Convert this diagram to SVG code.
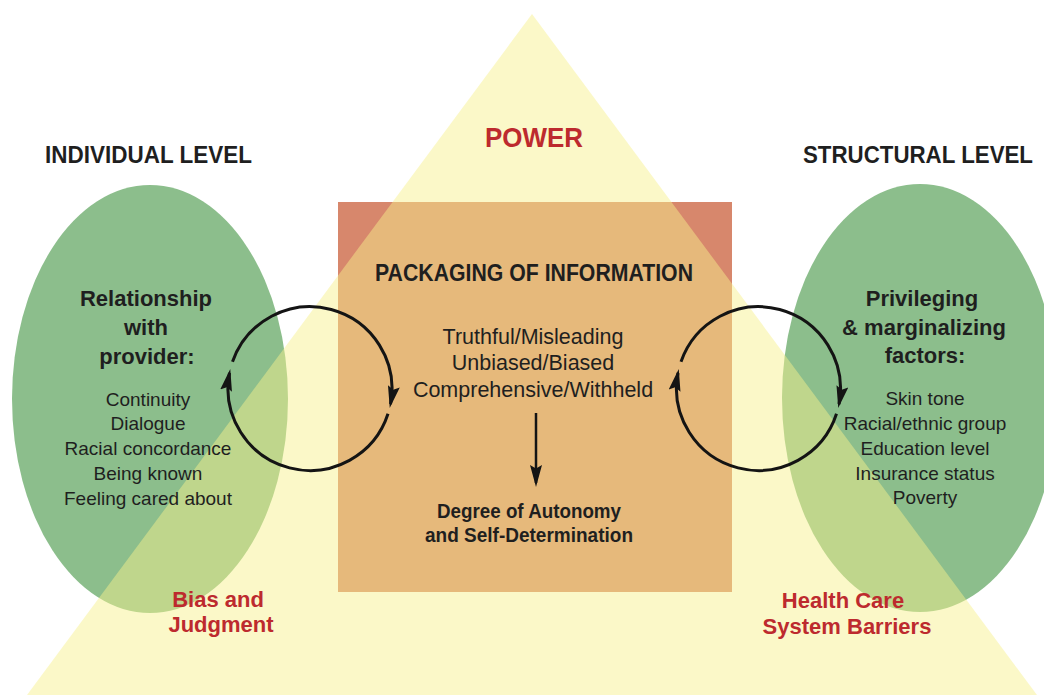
<svg xmlns="http://www.w3.org/2000/svg" width="1044" height="695" viewBox="0 0 1044 695">
  <style>
    text { font-family: "Liberation Sans", Arial, sans-serif; text-anchor: middle; fill: #1f1f1f; }
    .level { font-size: 23px; font-weight: bold; }
    .head { font-size: 22px; font-weight: bold; }
    .item { font-size: 19px; }
    .info { font-size: 21.5px; }
    .outcome { font-size: 20px; font-weight: bold; }
    .red { fill: #bd2a2e; font-weight: bold; font-size: 22px; }
    .ellipse { fill: #8cbe8c; }
    .loop { fill: none; stroke: #141414; stroke-width: 3; stroke-linecap: butt; }
  </style>
  <defs>
    <marker id="head" markerUnits="userSpaceOnUse" viewBox="0 0 22 13" markerWidth="22" markerHeight="13" refX="18" refY="6.5" orient="auto">
      <path d="M0,0.5 L22,6.5 L0,12.5 L3.5,6.5 Z" fill="#141414"/>
    </marker>
  </defs>

  <rect width="1044" height="695" fill="#ffffff"/>

  <!-- base shapes -->
  <g id="individual-level">
    <ellipse class="ellipse" cx="150" cy="399" rx="138" ry="214"/>
  </g>
  <g id="structural-level">
    <ellipse class="ellipse" cx="920" cy="398" rx="138" ry="214"/>
  </g>
  <g id="packaging-of-information">
    <rect x="338" y="202" width="394" height="390" fill="#d7876c"/>
  </g>

  <!-- translucent power triangle laid over the shapes -->
  <g id="power">
    <polygon points="532,14 1037,695 27,695" fill="#f6f18c" fill-opacity="0.48"/>
    <text class="red" x="534" y="147" style="font-size:28px" textLength="98" lengthAdjust="spacingAndGlyphs">POWER</text>
  </g>

  <!-- feedback loops and outcome arrow -->
  <g id="connectors">
    <path class="loop" d="M232.5,361.8 A82,82 0 0 1 390.5,404.1" marker-end="url(#head)"/>
    <path class="loop" d="M388,413.8 A82,82 0 0 1 229.5,372.9" marker-end="url(#head)"/>
    <path class="loop" d="M681,361.8 A82,82 0 0 1 839,404.1" marker-end="url(#head)"/>
    <path class="loop" d="M836.5,413.8 A82,82 0 0 1 678,372.9" marker-end="url(#head)"/>
    <path class="loop" style="stroke-width:2.5" d="M536,413 L536,483" marker-end="url(#head)"/>
  </g>

  <!-- labels -->
  <g id="individual-level-text">
    <text class="level" x="148.5" y="163" textLength="207" lengthAdjust="spacingAndGlyphs">INDIVIDUAL LEVEL</text>
    <text class="head" x="146" y="306">Relationship</text>
    <text class="head" x="146" y="335">with</text>
    <text class="head" x="147" y="364">provider:</text>
    <text class="item" x="148" y="406">Continuity</text>
    <text class="item" x="148" y="430">Dialogue</text>
    <text class="item" x="148" y="455">Racial concordance</text>
    <text class="item" x="148" y="480">Being known</text>
    <text class="item" x="148" y="505">Feeling cared about</text>
    <text class="red" x="218" y="607">Bias and</text>
    <text class="red" x="221" y="632">Judgment</text>
  </g>
  <g id="structural-level-text">
    <text class="level" x="918" y="163" textLength="230" lengthAdjust="spacingAndGlyphs">STRUCTURAL LEVEL</text>
    <text class="head" x="922" y="306">Privileging</text>
    <text class="head" x="924" y="335">&amp; marginalizing</text>
    <text class="head" x="925" y="363">factors:</text>
    <text class="item" x="925" y="405">Skin tone</text>
    <text class="item" x="925" y="430">Racial/ethnic group</text>
    <text class="item" x="925" y="455">Education level</text>
    <text class="item" x="925" y="480">Insurance status</text>
    <text class="item" x="925" y="504">Poverty</text>
    <text class="red" x="843" y="608">Health Care</text>
    <text class="red" x="847" y="634">System Barriers</text>
  </g>
  <g id="packaging-text">
    <text class="head" x="534" y="281" style="font-size:23px" textLength="318" lengthAdjust="spacingAndGlyphs">PACKAGING OF INFORMATION</text>
    <text class="info" x="533" y="344">Truthful/Misleading</text>
    <text class="info" x="533" y="370">Unbiased/Biased</text>
    <text class="info" x="533" y="397">Comprehensive/Withheld</text>
    <text class="outcome" x="529" y="518" textLength="184" lengthAdjust="spacingAndGlyphs">Degree of Autonomy</text>
    <text class="outcome" x="529" y="542" textLength="208" lengthAdjust="spacingAndGlyphs">and Self-Determination</text>
  </g>
</svg>
